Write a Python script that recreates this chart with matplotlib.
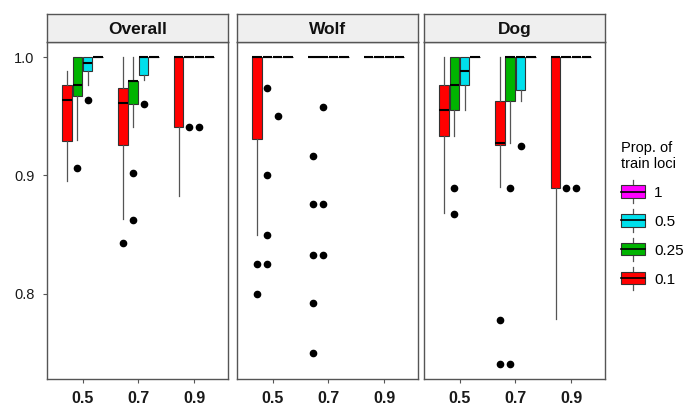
import matplotlib
matplotlib.use("Agg")
import matplotlib.pyplot as plt
from matplotlib.patches import Rectangle, Patch
from matplotlib.lines import Line2D
from matplotlib.legend_handler import HandlerBase

plt.rcParams['font.family'] = ['Liberation Sans', 'DejaVu Sans']

panels = ["Overall", "Wolf", "Dog"]
x_values = [0.5, 0.7, 0.9]
props = ["0.1", "0.25", "0.5", "1"]
prop_colors = ["#ff0000", "#00b400", "#00e0ec", "#ff00ff"]

# box stats per x value: (whislo, q1, med, q3, whishi)
flat = (1.0, 1.0, 1.0, 1.0, 1.0)
overall_01 = [(0.895, 0.929, 0.964, 0.976, 0.988), (0.863, 0.926, 0.961, 0.974, 1.0), (0.883, 0.941, 1.0, 1.0, 1.0)]
overall_025 = [(0.930, 0.967, 0.976, 1.0, 1.0), (0.941, 0.960, 0.980, 0.980, 1.0), flat]
overall_05 = [(0.976, 0.988, 0.995, 1.0, 1.0), (0.981, 0.985, 1.0, 1.0, 1.0), flat]
overall_1 = [flat, flat, flat]
wolf_01 = [(0.850, 0.931, 1.0, 1.0, 1.0), flat, flat]
wolf_025 = [flat, flat, flat]
wolf_05 = [flat, flat, flat]
wolf_1 = [flat, flat, flat]
dog_01 = [(0.868, 0.933, 0.955, 0.976, 1.0), (0.890, 0.926, 0.927, 0.963, 1.0), (0.779, 0.889, 1.0, 1.0, 1.0)]
dog_025 = [(0.933, 0.955, 0.976, 1.0, 1.0), (0.927, 0.963, 1.0, 1.0, 1.0), flat]
dog_05 = [(0.955, 0.976, 0.988, 1.0, 1.0), (0.963, 0.972, 1.0, 1.0, 1.0), flat]
dog_1 = [flat, flat, flat]

# outliers per x value
overall_01_out = [[], [0.843], []]
overall_025_out = [[0.906], [0.902, 0.862], [0.941]]
overall_05_out = [[0.964], [0.960], [0.941]]
overall_1_out = [[], [], []]
wolf_01_out = [[0.825, 0.800], [0.916, 0.876, 0.833, 0.792, 0.750], []]
wolf_025_out = [[0.974, 0.900, 0.850, 0.825], [0.958, 0.876, 0.833], []]
wolf_05_out = [[0.950], [], []]
wolf_1_out = [[], [], []]
dog_01_out = [[], [0.778, 0.741], []]
dog_025_out = [[0.889, 0.867], [0.889, 0.741], [0.889]]
dog_05_out = [[], [0.925], [0.889]]
dog_1_out = [[], [], []]

panel_stats = {
    "Overall": ([overall_01, overall_025, overall_05, overall_1],
                [overall_01_out, overall_025_out, overall_05_out, overall_1_out]),
    "Wolf": ([wolf_01, wolf_025, wolf_05, wolf_1],
             [wolf_01_out, wolf_025_out, wolf_05_out, wolf_1_out]),
    "Dog": ([dog_01, dog_025, dog_05, dog_1],
            [dog_01_out, dog_025_out, dog_05_out, dog_1_out]),
}

fig = plt.figure(figsize=(6.96, 4.07), dpi=100)
lefts = [0.0675, 0.3405, 0.6092]
w = 0.26
bottom, top, strip_top = 0.0688, 0.8968, 0.9656
edge = "#555555"
step = 0.037

for i, name in enumerate(panels):
    ax = fig.add_axes([lefts[i], bottom, w, top - bottom])
    boxes, outs = panel_stats[name]
    for j, c in enumerate(prop_colors):
        stats = []
        for k, s in enumerate(boxes[j]):
            stats.append(dict(whislo=s[0], q1=s[1], med=s[2], q3=s[3], whishi=s[4], fliers=outs[j][k]))
        pos = [x + (j - 1.5) * step for x in x_values]
        ax.bxp(stats, positions=pos, widths=0.034, patch_artist=True, showcaps=False,
               boxprops=dict(facecolor=c, edgecolor="#333333", linewidth=0.8),
               medianprops=dict(color="black", linewidth=1.5, solid_capstyle="butt"),
               whiskerprops=dict(color=edge, linewidth=0.9),
               flierprops=dict(marker="o", markerfacecolor="black", markeredgecolor="black", markersize=4.5))
    ax.set_xlim(0.3725, 1.021)
    ax.set_ylim(0.728, 1.0127)
    ax.set_xticks(x_values)
    ax.set_yticks([0.8, 0.9, 1.0])
    ax.tick_params(color=edge, labelcolor="#1a1a1a", length=3, width=0.8, pad=6)
    ax.set_xticklabels(["0.5", "0.7", "0.9"], fontsize=11.5, fontweight="bold")
    if i == 0:
        ax.set_yticklabels(["0.8", "0.9", "1.0"], fontsize=10.5)
    else:
        ax.tick_params(axis="y", left=False, labelleft=False)
    for sp in ax.spines.values():
        sp.set_color(edge)
        sp.set_linewidth(1)

    sax = fig.add_axes([lefts[i], top, w, strip_top - top])
    sax.set_facecolor("#efefef")
    sax.set_xticks([])
    sax.set_yticks([])
    for sp in sax.spines.values():
        sp.set_color(edge)
        sp.set_linewidth(1)
    sax.text(0.5, 0.45, name, ha="center", va="center", fontsize=12.5, fontweight="bold",
             color="#111111", transform=sax.transAxes)


class BoxKey(HandlerBase):
    def create_artists(self, legend, orig_handle, xdescent, ydescent, width, height, fontsize, trans):
        x0, y0 = -xdescent, -ydescent
        box = Rectangle((x0, y0), width, height, facecolor=orig_handle.get_facecolor(),
                        edgecolor="#333333", lw=0.8, transform=trans)
        mid = Line2D([x0, x0 + width], [y0 + height / 2] * 2, color="black", lw=1.2, transform=trans)
        up = Line2D([x0 + width / 2] * 2, [y0 + height, y0 + height * 1.45], color=edge, lw=0.9, transform=trans)
        dn = Line2D([x0 + width / 2] * 2, [y0, y0 - height * 0.45], color=edge, lw=0.9, transform=trans)
        return [up, dn, box, mid]


handles = [Patch(facecolor=c) for c in prop_colors][::-1]
labels = props[::-1]
leg = fig.legend(handles, labels, handler_map={Patch: BoxKey()}, loc="center left",
                 bbox_to_anchor=(0.872, 0.475), frameon=False, fontsize=11,
                 title="Prop. of\ntrain loci", title_fontsize=10.5, handlelength=1.6,
                 handleheight=0.85, labelspacing=0.95, handletextpad=0.6)
leg._legend_box.align = "left"

fig.savefig("out.png", dpi=100)
